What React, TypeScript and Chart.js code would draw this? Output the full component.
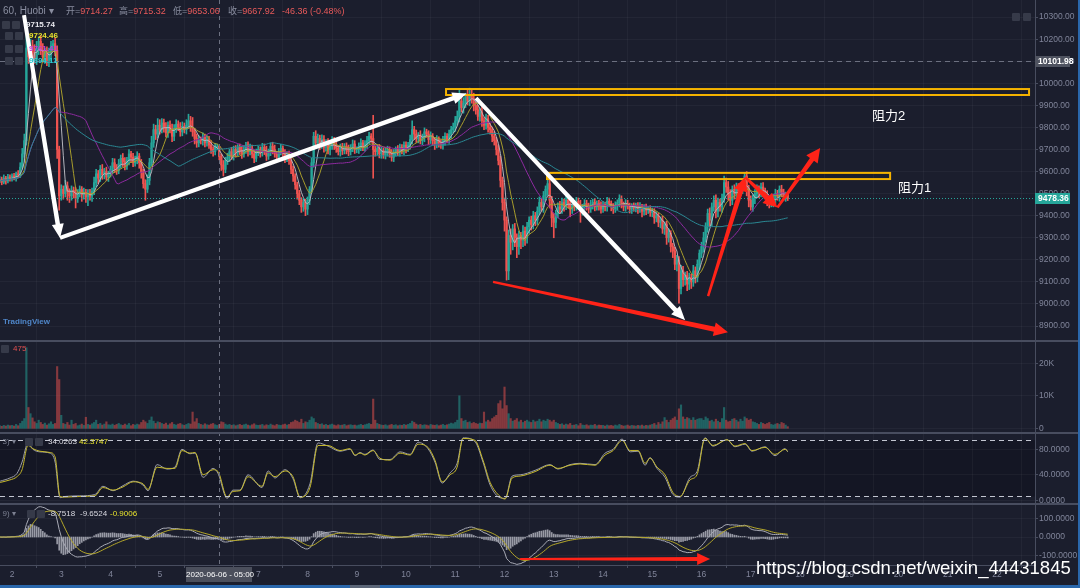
import React, { useEffect, useRef } from 'react';
import { Chart, registerables } from 'chart.js';

Chart.register(...registerables);

const FONT = "'Liberation Sans', Arial, 'Noto Sans CJK SC', sans-serif";

// ---------------- data (hourly candles, hour 0 = 2020-06-02 00:00) ----------------
const START_HOUR = -6;
const FIRST_OPEN = 9560;
const closes = [
  9565, 9552, 9570, 9558, 9575, 9568,
  9580, 9572, 9590, 9585, 9620, 9680, 9740, 10160, 10120, 10170, 10140, 10110, 10160, 10190, 10150, 10120, 10140, 10100, 10130, 10170, 10180, 10150, 9700, 9490,
  9520, 9500, 9535, 9510, 9490, 9515, 9505, 9480, 9500, 9520, 9495, 9505, 9485, 9500, 9490, 9510, 9550, 9590, 9570, 9610, 9585, 9600, 9575, 9590,
  9610, 9640, 9620, 9605, 9635, 9660, 9645, 9625, 9650, 9680, 9665, 9640, 9655, 9670, 9640, 9600, 9545, 9520, 9560, 9640, 9730, 9790, 9770, 9810,
  9790, 9820, 9800, 9775, 9810, 9790, 9760, 9795, 9815, 9800, 9780, 9805, 9790, 9810, 9830, 9800, 9780, 9750, 9730, 9745, 9740, 9755, 9730, 9745,
  9720, 9700, 9690, 9710, 9714.27, 9667.92, 9630, 9610, 9650, 9665, 9690, 9670, 9700, 9685, 9710, 9695, 9680, 9700, 9720, 9690, 9705, 9680, 9660, 9690,
  9700, 9685, 9710, 9695, 9670, 9690, 9715, 9700, 9680, 9665, 9690, 9705, 9680, 9660, 9675, 9650, 9610, 9580, 9540, 9500, 9470, 9440, 9460, 9430,
  9470, 9520, 9640, 9760, 9730, 9750, 9720, 9745, 9710, 9730, 9700, 9715, 9740, 9720, 9705, 9690, 9710, 9695, 9715, 9700, 9690, 9710, 9725, 9700,
  9700, 9715, 9730, 9710, 9725, 9740, 9760, 9750, 9700, 9690, 9705, 9680, 9695, 9675, 9690, 9700, 9680, 9665, 9685, 9700, 9690, 9710, 9695, 9720,
  9705, 9720, 9745, 9790, 9770, 9750, 9765, 9740, 9755, 9780, 9770, 9745, 9760, 9740, 9725, 9745, 9730, 9720, 9740, 9760, 9745, 9770, 9790, 9800,
  9830, 9850, 9920, 9890, 9910, 9940, 9920, 9950, 9930, 9900, 9880, 9850, 9870, 9830, 9810, 9840, 9800, 9790, 9760, 9740, 9700, 9650, 9560, 9460,
  9380, 9150, 9310, 9280, 9340, 9300, 9260, 9310, 9290, 9330, 9300, 9350, 9380, 9360, 9400, 9380, 9420, 9460, 9440, 9490, 9520, 9545, 9470, 9390,
  9370, 9410, 9440, 9430, 9460, 9445, 9470, 9455, 9430, 9450, 9440, 9465, 9450, 9420, 9440, 9455, 9445, 9430, 9450, 9460, 9440, 9455, 9445, 9430,
  9450, 9440, 9465, 9455, 9440, 9430, 9445, 9460, 9475, 9450, 9440, 9455, 9445, 9430, 9440, 9435, 9445, 9430, 9440, 9420, 9435, 9425, 9430, 9415,
  9420, 9390, 9400, 9370, 9380, 9340, 9360, 9300, 9320, 9260, 9240, 9180, 9200, 9070, 9150, 9110, 9130, 9090, 9120, 9100, 9150, 9120, 9180, 9230,
  9260, 9300, 9350, 9410, 9380, 9440, 9470, 9420, 9460, 9440, 9480, 9550, 9530, 9500, 9470, 9520, 9500, 9530, 9510, 9525, 9540, 9580, 9520, 9470,
  9440, 9480, 9500, 9520, 9505, 9530, 9510, 9495, 9470, 9455, 9460, 9480, 9500, 9490, 9520, 9505, 9485, 9495, 9478.36,
];
const wickUp = [
  12, 10, 15, 8, 12, 10,
  10, 12, 8, 15, 20, 25, 30, 115, 40, 30, 25, 35, 30, 20, 25, 30, 20, 25, 30, 20, 15, 25, 20, 15,
  20, 15, 25, 18, 12, 20, 15, 22, 18, 15, 12, 20, 15, 18, 20, 15, 25, 20, 15, 18, 22, 15, 20, 12,
  15, 20, 18, 12, 20, 15, 22, 18, 15, 20, 12, 18, 15, 20, 12, 15, 10, 18, 25, 20, 30, 25, 20, 30,
  25, 20, 18, 22, 15, 20, 25, 18, 20, 15, 22, 20, 15, 25, 30, 20, 45, 15, 20, 18, 12, 20, 15, 18,
  15, 20, 12, 18, 10, 1.05, 12, 20, 15, 18, 12, 20, 15, 18, 12, 15, 20, 18, 12, 15, 20, 15, 18, 12,
  15, 12, 18, 15, 20, 12, 15, 18, 20, 12, 15, 18, 12, 20, 15, 18, 12, 15, 10, 12, 15, 12, 18, 15,
  15, 12, 20, 18, 25, 20, 15, 22, 18, 15, 20, 12, 18, 15, 20, 12, 15, 18, 12, 15, 20, 12, 18, 15,
  12, 15, 18, 12, 15, 20, 18, 12, 105, 15, 12, 18, 15, 12, 18, 15, 12, 20, 15, 12, 18, 15, 12, 15,
  15, 12, 20, 40, 15, 18, 12, 20, 15, 18, 12, 15, 20, 12, 15, 18, 12, 15, 20, 15, 12, 18, 15, 20,
  20, 25, 55, 20, 25, 15, 30, 28, 20, 25, 15, 20, 18, 25, 15, 20, 15, 18, 12, 20, 15, 18, 20, 15,
  20, 15, 25, 30, 20, 25, 18, 20, 15, 25, 18, 20, 15, 18, 20, 15, 20, 25, 18, 20, 15, 25, 20, 18,
  20, 15, 18, 25, 20, 15, 22, 18, 15, 20, 12, 18, 15, 20, 12, 18, 15, 12, 20, 15, 18, 12, 15, 18,
  15, 12, 18, 15, 12, 15, 18, 12, 20, 15, 12, 18, 15, 12, 15, 18, 12, 15, 20, 12, 15, 18, 12, 15,
  15, 12, 18, 12, 15, 18, 12, 15, 20, 12, 15, 18, 20, 15, 25, 20, 15, 18, 20, 15, 25, 18, 20, 15,
  20, 25, 18, 20, 25, 18, 20, 25, 20, 15, 18, 30, 20, 25, 18, 15, 20, 18, 15, 20, 18, 15, 20, 18,
  20, 15, 18, 20, 15, 18, 20, 15, 18, 12, 15, 18, 20, 15, 15, 18, 15, 12, 10,
];
const wickDn = [
  10, 12, 8, 15, 10, 12,
  12, 10, 15, 8, 12, 10, 15, 20, 30, 25, 35, 20, 25, 30, 20, 25, 30, 20, 25, 30, 20, 25, 40, 65,
  20, 25, 15, 40, 30, 20, 25, 45, 20, 15, 30, 20, 25, 40, 20, 25, 15, 20, 25, 15, 20, 18, 15, 20,
  15, 20, 25, 18, 15, 20, 22, 18, 15, 20, 25, 18, 15, 20, 25, 30, 20, 50, 15, 20, 15, 20, 25, 18,
  20, 15, 22, 18, 20, 15, 25, 20, 18, 15, 20, 18, 15, 20, 15, 18, 20, 25, 20, 18, 15, 20, 18, 15,
  15, 18, 20, 15, 12, 14.86, 25, 30, 15, 18, 20, 15, 18, 20, 15, 18, 20, 15, 18, 20, 15, 18, 20, 15,
  18, 20, 15, 18, 20, 15, 18, 20, 15, 18, 20, 15, 18, 20, 15, 18, 20, 25, 20, 25, 20, 25, 20, 30,
  25, 20, 15, 20, 25, 18, 20, 15, 22, 18, 20, 25, 15, 20, 18, 15, 20, 18, 15, 20, 18, 15, 20, 18,
  15, 18, 20, 15, 18, 20, 15, 18, 130, 20, 15, 18, 20, 15, 18, 20, 15, 18, 20, 15, 18, 20, 15, 18,
  20, 15, 18, 20, 25, 18, 20, 15, 18, 20, 15, 22, 18, 20, 25, 18, 20, 15, 18, 20, 15, 18, 20, 15,
  18, 20, 25, 20, 25, 20, 18, 22, 20, 25, 20, 18, 22, 25, 20, 18, 22, 20, 25, 20, 25, 20, 30, 35,
  50, 42, 40, 55, 35, 40, 50, 35, 40, 30, 35, 25, 30, 25, 20, 25, 20, 15, 20, 25, 20, 25, 35, 40,
  70, 25, 20, 18, 20, 25, 18, 20, 35, 20, 18, 15, 20, 50, 18, 15, 20, 18, 15, 20, 18, 15, 20, 18,
  15, 18, 20, 15, 18, 20, 15, 18, 20, 15, 18, 20, 15, 18, 20, 15, 18, 20, 15, 25, 18, 20, 15, 18,
  20, 25, 18, 20, 25, 20, 25, 30, 20, 25, 30, 25, 30, 66, 25, 30, 25, 30, 25, 30, 20, 25, 20, 25,
  20, 25, 20, 25, 30, 25, 20, 30, 25, 20, 25, 20, 25, 30, 25, 20, 25, 20, 25, 20, 25, 20, 30, 30,
  15, 20, 25, 20, 25, 20, 25, 20, 25, 20, 15, 20, 25, 20, 25, 20, 15, 20, 10,
];
const volumeK = [
  0.8, 0.6, 0.9, 0.7, 1.0, 0.8,
  0.9, 0.7, 1.2, 0.8, 1.5, 2.2, 3.0, 24.8, 6.4, 4.5, 3.2, 2.0, 1.5, 2.5, 1.8, 1.2, 1.6, 1.0, 1.4, 2.0, 1.2, 1.5, 19.0, 15.0,
  4.0, 1.5, 1.2, 1.8, 1.0, 2.5, 1.2, 1.5, 0.8, 1.0, 1.3, 0.9, 3.4, 1.2, 1.0, 1.4, 1.8, 2.5, 1.2, 1.5, 1.0, 1.3, 2.0, 1.1,
  1.0, 1.3, 0.9, 1.2, 1.5, 1.1, 0.9, 1.3, 1.0, 1.5, 0.8, 1.2, 1.0, 1.3, 1.1, 1.8, 2.5, 2.0, 1.5, 2.5, 3.5, 2.2, 1.5, 2.0,
  1.8, 1.5, 1.2, 1.6, 1.0, 1.4, 1.8, 1.2, 1.0, 1.3, 1.5, 1.1, 0.9, 1.2, 1.5, 1.3, 5.0, 2.0, 3.0, 1.5, 1.2, 1.0, 1.4, 1.1,
  1.0, 1.3, 1.5, 1.1, 0.9, 1.2, 2.0, 1.8, 1.3, 1.0, 1.2, 0.9, 1.1, 0.8, 1.0, 1.2, 0.9, 1.1, 1.3, 1.0, 0.8, 1.1, 1.4, 1.0,
  0.9, 1.0, 1.2, 0.8, 1.1, 0.9, 1.3, 1.0, 0.8, 1.2, 1.0, 0.9, 1.1, 1.3, 1.0, 1.2, 1.8, 2.0, 2.5, 2.2, 1.8, 2.8, 1.5, 2.0,
  1.8, 2.5, 3.5, 3.0, 1.8, 1.5, 1.2, 1.4, 1.0, 1.2, 0.9, 1.1, 1.3, 1.0, 0.8, 1.1, 0.9, 1.0, 1.2, 0.8, 1.0, 1.1, 0.9, 1.0,
  0.8, 1.0, 1.2, 0.9, 1.1, 1.3, 1.5, 1.2, 9.0, 2.5, 1.5, 1.2, 1.0, 0.9, 1.1, 0.8, 1.0, 1.2, 0.9, 1.1, 0.8, 1.0, 0.9, 1.2,
  1.0, 1.2, 1.5, 2.2, 1.8, 1.3, 1.0, 1.2, 0.9, 1.1, 1.0, 0.8, 1.2, 1.0, 0.9, 1.1, 0.8, 1.0, 1.2, 0.9, 1.1, 1.3, 1.6, 1.4,
  1.8, 2.5, 10.0, 3.0, 2.2, 2.5, 1.8, 2.0, 1.5, 1.8, 1.5, 1.3, 1.6, 1.5, 5.0, 2.0, 2.5, 2.0, 3.0, 3.5, 4.0, 7.6, 8.5, 6.0,
  12.7, 7.0, 4.5, 3.0, 2.2, 2.5, 3.0, 2.0, 2.5, 1.8, 2.2, 2.5, 2.0, 1.8, 2.5, 2.0, 2.2, 2.8, 2.0, 2.5, 2.2, 2.8, 2.5, 2.0,
  2.5, 1.8, 1.5, 1.2, 1.4, 1.0, 1.3, 1.1, 1.5, 0.9, 1.0, 1.2, 0.8, 1.5, 1.0, 0.9, 1.1, 0.8, 1.0, 0.9, 1.2, 0.8, 1.0, 0.9,
  0.9, 0.7, 1.0, 0.8, 0.9, 0.7, 1.0, 0.8, 1.2, 0.9, 0.7, 0.8, 1.0, 0.7, 0.9, 0.8, 0.7, 0.9, 0.8, 1.0, 0.7, 0.9, 0.8, 1.0,
  1.2, 1.5, 1.0, 1.8, 1.3, 2.0, 3.3, 2.5, 1.8, 2.5, 3.0, 3.5, 2.5, 6.0, 7.2, 3.5, 2.8, 3.3, 3.0, 2.5, 3.3, 2.5, 2.8, 3.0,
  3.0, 2.5, 3.5, 3.0, 2.2, 2.5, 2.0, 2.8, 2.2, 1.8, 3.0, 6.4, 2.5, 2.0, 2.2, 2.8, 3.0, 2.5, 2.0, 2.8, 2.2, 3.5, 3.0, 2.5,
  2.8, 2.0, 1.8, 1.5, 1.2, 1.8, 1.5, 1.2, 1.5, 1.8, 1.2, 1.0, 1.3, 1.5, 1.2, 1.8, 1.5, 1.0, 0.5,
];

// Stoch RSI (hour, K grey, D yellow)
const stochHours = [
  -5.8, -1, 2.4, 4.9, 7.8, 10.2, 13.6, 18.5, 21, 23.4, 25.8, 33.1, 40.4, 44.3, 49.2, 54.1, 59, 63.8, 66.3, 70.7,
  75.5, 79.4, 82.8, 86.7, 89.2, 93.1, 98, 100.4, 104.8, 107.7, 111.1, 115, 121.8, 124.8, 128.2, 133, 136.9, 140.4, 145.2, 149.1,
  154, 159.8, 164.7, 167.2, 169.6, 172, 175.9, 179.3, 184.2, 189.1, 194, 197.9, 202.7, 206.1, 209.6, 213.5, 216.9, 219.8, 225.6, 229.5,
  233, 237.8, 240.3, 243.7, 247.6, 254.9, 262.2, 266, 271.9, 276.8, 284.1, 289, 292.9, 297.3, 301.2, 305.1, 308.5, 310.9, 314.3, 318.2,
  322.1, 325.5, 330.4, 333.8, 337.7, 341.6, 348.4, 352.3, 357.2, 360.6, 366.9, 371.8, 376.7, 378,
];
const stochD = [
  28, 32, 37, 48, 86, 81, 77, 75, 68, 6, 5, 6, 7, 20, 16, 21, 29, 26, 17, 52,
  50, 50, 78, 74, 75, 40, 48, 45, 5, 14, 15, 37, 22, 43, 37, 46, 37, 5, 20, 86,
  86, 78, 81, 71, 74, 71, 78, 66, 63, 74, 71, 88, 83, 63, 29, 40, 52, 97, 94, 63,
  28, 6, 2, 35, 38, 45, 55, 50, 55, 57, 55, 71, 78, 94, 78, 78, 58, 66, 52, 40,
  12, 6, 32, 40, 97, 86, 95, 85, 89, 78, 83, 72, 80, 77,
];
const stochK = [
  30, 35, 42, 60, 90, 80, 76, 74, 60, 4, 6, 7, 9, 22, 15, 23, 30, 24, 15, 56,
  49, 52, 80, 73, 74, 36, 50, 42, 3, 16, 16, 40, 20, 46, 35, 48, 34, 4, 26, 90,
  85, 77, 80, 70, 75, 72, 79, 64, 64, 76, 72, 91, 81, 60, 27, 43, 58, 98, 92, 60,
  24, 4, 3, 38, 40, 47, 56, 49, 56, 58, 56, 74, 80, 96, 76, 77, 55, 67, 50, 36,
  9, 5, 36, 45, 98, 85, 95, 84, 88, 77, 84, 70, 81, 76,
];
const stochBands = [94, 6];

const maPeriods = [5, 10, 30, 60];
const macdPeriods = [12, 26, 9];

// axes
const dayLabels = ['2', '3', '4', '5', '6', '7', '8', '9', '10', '11', '12', '13', '14', '15', '16', '17', '18', '19', '20', '21', '22'];
const priceTicks = [8900, 9000, 9100, 9200, 9300, 9400, 9500, 9600, 9700, 9800, 9900, 10000, 10100, 10200, 10300];
const volumeTicks = [0, 10000, 20000];
const stochTicks = [0, 40, 80];
const macdTicks = [-100, 0, 100];

// reference values shown in the picture
const lastPrice = 9478.36;
const markedPrice = 10101.98;
const cursorHour = 101;
const cursorLabel = '2020-06-06 - 05:00';
const ohlcLabels = ['开=', '高=', '低=', '收='];
const ohlcValues = ['9714.27', '9715.32', '9653.06', '9667.92'];
const changeText = '-46.36 (-0.48%)';
const maLegend = ['9715.74', '9724.46', '9761.41', '9694.11'];
const volumeLegend = '475';
const stochLegend = ['34.0263', '42.3747'];
const macdLegend = ['-8.7518', '-9.6524', '-0.9006'];

// annotations (hour, value)
const whiteArrows = [
  [5.85, 10309, 23.4, 9299],
  [23.4, 9299, 221.5, 9954],
  [226.1, 9933, 328, 8926],
];
const redArrows = [
  [234.4, 9100, 348.9, 8872],
  [339.2, 9036, 357.2, 9575],
  [357.2, 9575, 373, 9437],
  [373, 9437, 393.8, 9707],
];
const macdArrow = [247.6, -118, 340.2, -118];
const resistanceBoxes = [
  [211.5, 9974, 495.6, 9947],
  [260.7, 9594, 427.9, 9566],
];

// ---------------- layout (axis ranges so each pane sits in its band) ----------------
const X_RANGE = [-5.85, 498.5];
const PRICE_RANGE = [7817, 10377.5];
const VOLUME_RANGE = [-42063, 131788];
const STOCH_RANGE = [-101.5, 784.8];
const MACD_RANGE = [-150.1, 2879];
const PANE_SEPARATORS = [341, 433, 504];

const BG = '#1b1e2d';
const BAND_BG = '#141624';
const UP = '#26a69a';
const DOWN = '#ef5350';
const AXIS_TEXT = '#80859a';
const LINE_GREY = '#484d5f';
const maColors = ['#b4b4bc', '#a89d2c', '#8e2aa0', '#2a8893'];

function sma(values: number[], n: number) {
  return values.map((_, i) => {
    const s = Math.max(0, i - n + 1);
    let sum = 0;
    for (let k = s; k <= i; k++) sum += values[k];
    return sum / (i - s + 1);
  });
}
function ema(values: number[], n: number) {
  const a = 2 / (n + 1);
  const out: number[] = [];
  values.forEach((v, i) => out.push(i === 0 ? v : out[i - 1] + a * (v - out[i - 1])));
  return out;
}
const toUnified = (v: number, r: number[]) =>
  PRICE_RANGE[0] + ((v - r[0]) / (r[1] - r[0])) * (PRICE_RANGE[1] - PRICE_RANGE[0]);

function drawArrow(ctx: any, x1: number, y1: number, x2: number, y2: number, color: string, w1: number, w2: number, headLen: number, headHalf: number) {
  const dx = x2 - x1, dy = y2 - y1;
  const len = Math.hypot(dx, dy);
  const ux = dx / len, uy = dy / len;
  const nx = -uy, ny = ux;
  const bx = x2 - ux * headLen, by = y2 - uy * headLen;
  ctx.fillStyle = color;
  ctx.beginPath();
  ctx.moveTo(x1 + (nx * w1) / 2, y1 + (ny * w1) / 2);
  ctx.lineTo(bx + (nx * w2) / 2, by + (ny * w2) / 2);
  ctx.lineTo(bx + nx * headHalf, by + ny * headHalf);
  ctx.lineTo(x2, y2);
  ctx.lineTo(bx - nx * headHalf, by - ny * headHalf);
  ctx.lineTo(bx - (nx * w2) / 2, by - (ny * w2) / 2);
  ctx.lineTo(x1 - (nx * w1) / 2, y1 - (ny * w1) / 2);
  ctx.closePath();
  ctx.fill();
}

const decorPlugin = {
  id: 'decor',
  beforeDraw(chart: any) {
    const { ctx, width, height, chartArea: ca, scales } = chart;
    ctx.save();
    ctx.fillStyle = BG;
    ctx.fillRect(0, 0, width, height);
    const t = scales.ys.getPixelForValue(stochBands[0]);
    const b = scales.ys.getPixelForValue(stochBands[1]);
    ctx.fillStyle = BAND_BG;
    ctx.fillRect(ca.left, t, ca.right - ca.left, b - t);
    ctx.restore();
  },
  afterDatasetsDraw(chart: any) {
    const { ctx, chartArea: ca, scales } = chart;
    const { x, y, ys, ym } = scales;
    ctx.save();
    ctx.lineWidth = 1;
    const hline = (py: number) => {
      ctx.beginPath();
      ctx.moveTo(ca.left, py);
      ctx.lineTo(ca.right, py);
      ctx.stroke();
    };
    ctx.strokeStyle = '#c2c5d0';
    ctx.setLineDash([5, 4]);
    stochBands.forEach((v) => hline(Math.round(ys.getPixelForValue(v)) + 0.5));
    ctx.strokeStyle = '#6c7080';
    ctx.setLineDash([5, 4]);
    hline(Math.round(y.getPixelForValue(markedPrice)) + 0.5);
    ctx.strokeStyle = UP;
    ctx.setLineDash([1, 2]);
    hline(Math.round(y.getPixelForValue(lastPrice)) + 0.5);
    ctx.strokeStyle = '#6c7080';
    ctx.setLineDash([4, 4]);
    const cx = Math.round(x.getPixelForValue(cursorHour)) + 0.5;
    ctx.beginPath();
    ctx.moveTo(cx, ca.top);
    ctx.lineTo(cx, ca.bottom);
    ctx.stroke();
    ctx.setLineDash([]);

    ctx.strokeStyle = '#f5b300';
    ctx.lineWidth = 2;
    resistanceBoxes.forEach(([h1, p1, h2, p2]) => {
      const x1 = x.getPixelForValue(h1), x2 = x.getPixelForValue(h2);
      const y1 = y.getPixelForValue(p1), y2 = y.getPixelForValue(p2);
      ctx.strokeRect(x1, y1, x2 - x1, y2 - y1);
    });

    whiteArrows.forEach(([h1, p1, h2, p2]) =>
      drawArrow(ctx, x.getPixelForValue(h1), y.getPixelForValue(p1), x.getPixelForValue(h2), y.getPixelForValue(p2), '#ffffff', 4, 4.5, 14, 6));
    redArrows.forEach(([h1, p1, h2, p2]) =>
      drawArrow(ctx, x.getPixelForValue(h1), y.getPixelForValue(p1), x.getPixelForValue(h2), y.getPixelForValue(p2), '#ff2318', 2.5, 5, 14, 7));
    drawArrow(ctx, x.getPixelForValue(macdArrow[0]), ym.getPixelForValue(macdArrow[1]), x.getPixelForValue(macdArrow[2]), ym.getPixelForValue(macdArrow[3]), '#ff2318', 2, 4, 13, 6);
    ctx.restore();
  },
  afterDraw(chart: any) {
    const { ctx, chartArea: ca, scales, width } = chart;
    const y = scales.y;
    ctx.save();
    ctx.fillStyle = LINE_GREY;
    PANE_SEPARATORS.forEach((py) => ctx.fillRect(0, py - 1, width, 2));
    const boxes = [
      { v: markedPrice, bg: '#4f5360' },
      { v: lastPrice, bg: UP },
    ];
    ctx.font = `bold 8.5px ${FONT}`;
    ctx.textBaseline = 'middle';
    boxes.forEach((b) => {
      const py = y.getPixelForValue(b.v);
      ctx.fillStyle = b.bg;
      ctx.fillRect(ca.right, Math.round(py) - 5, 35, 11);
      ctx.fillStyle = '#ffffff';
      ctx.fillText(b.v.toFixed(2), ca.right + 3, Math.round(py) + 0.5);
    });
    ctx.restore();
  },
};

function buildConfig() {
  const hours = closes.map((_, i) => START_HOUR + i);
  const opens = closes.map((_, i) => (i === 0 ? FIRST_OPEN : closes[i - 1]));
  const highs = closes.map((c, i) => Math.max(c, opens[i]) + wickUp[i]);
  const lows = closes.map((c, i) => Math.min(c, opens[i]) - wickDn[i]);
  const colors = closes.map((c, i) => (c >= opens[i] ? UP : DOWN));
  const volColors = closes.map((c, i) => (c >= opens[i] ? 'rgba(38,166,154,0.5)' : 'rgba(239,83,80,0.5)'));

  const mas = maPeriods.map((n) => sma(closes, n));
  const e1 = ema(closes, macdPeriods[0]);
  const e2 = ema(closes, macdPeriods[1]);
  const macd = e1.map((v, i) => v - e2[i]);
  const signal = ema(macd, macdPeriods[2]);
  const hist = macd.map((v, i) => v - signal[i]);

  const axisTicks = [
    ...priceTicks.map((v) => ({ value: v, label: v.toFixed(2) })),
    ...volumeTicks.map((v) => ({ value: toUnified(v, VOLUME_RANGE), label: v === 0 ? '0' : `${v / 1000}K` })),
    ...stochTicks.map((v) => ({ value: toUnified(v, STOCH_RANGE), label: v.toFixed(4) })),
    ...macdTicks.map((v) => ({ value: toUnified(v, MACD_RANGE), label: v.toFixed(4) })),
  ].sort((a, b) => a.value - b.value);

  const datasets: any[] = [
    {
      type: 'bar', label: 'volume', yAxisID: 'yv', order: 9, grouped: false, barThickness: 1.5,
      data: hours.map((h, i) => ({ x: h, y: volumeK[i] * 1000 })), backgroundColor: volColors, borderWidth: 0,
    },
    {
      type: 'bar', label: 'hist', yAxisID: 'ym', order: 9, grouped: false, barThickness: 1,
      data: hours.map((h, i) => ({ x: h, y: hist[i] })), backgroundColor: 'rgba(205,207,216,0.7)', borderWidth: 0,
    },
    {
      type: 'bar', label: 'wick', yAxisID: 'y', order: 8, grouped: false, barThickness: 1,
      data: hours.map((h, i) => ({ x: h, y: [lows[i], highs[i]] })), backgroundColor: colors, borderWidth: 0,
    },
    {
      type: 'bar', label: 'body', yAxisID: 'y', order: 7, grouped: false, barThickness: 1.6, minBarLength: 1,
      data: hours.map((h, i) => ({ x: h, y: [Math.min(opens[i], closes[i]), Math.max(opens[i], closes[i])] })),
      backgroundColor: colors, borderWidth: 0,
    },
    ...mas.map((m, k) => ({
      type: 'line', label: `MA${maPeriods[k]}`, yAxisID: 'y', order: 6 - k,
      data: hours.map((h, i) => ({ x: h, y: m[i] })), borderColor: maColors[k], borderWidth: 1, pointRadius: 0,
    })),
    {
      type: 'line', label: 'stochK', yAxisID: 'ys', order: 2,
      data: stochHours.map((h, i) => ({ x: h, y: stochK[i] })), borderColor: '#9a9ca8', borderWidth: 1, pointRadius: 0,
      cubicInterpolationMode: 'monotone',
    },
    {
      type: 'line', label: 'stochD', yAxisID: 'ys', order: 1,
      data: stochHours.map((h, i) => ({ x: h, y: stochD[i] })), borderColor: '#c6b92c', borderWidth: 1, pointRadius: 0,
      cubicInterpolationMode: 'monotone',
    },
    {
      type: 'line', label: 'macd', yAxisID: 'ym', order: 2,
      data: hours.map((h, i) => ({ x: h, y: macd[i] })), borderColor: '#a9abb6', borderWidth: 1, pointRadius: 0,
    },
    {
      type: 'line', label: 'signal', yAxisID: 'ym', order: 1,
      data: hours.map((h, i) => ({ x: h, y: signal[i] })), borderColor: '#b3a62a', borderWidth: 1, pointRadius: 0,
    },
  ];

  const hidden = (r: number[]) => ({ type: 'linear', display: false, min: r[0], max: r[1] });

  return {
    type: 'bar',
    data: { datasets },
    options: {
      responsive: false,
      animation: false,
      events: [],
      layout: { padding: 0 },
      plugins: { legend: { display: false }, tooltip: { enabled: false } },
      scales: {
        x: {
          type: 'linear', position: 'bottom', min: X_RANGE[0], max: X_RANGE[1], offset: false,
          afterBuildTicks: (s: any) => { s.ticks = dayLabels.map((_, i) => ({ value: i * 24 })); },
          afterFit: (s: any) => { s.height = 23; s.paddingLeft = 0; s.paddingRight = 0; },
          ticks: {
            autoSkip: false, maxRotation: 0, color: AXIS_TEXT, padding: 2,
            font: { family: FONT, size: 8.5 },
            callback: (_v: any, i: number) => dayLabels[i],
          },
          grid: { color: 'rgba(255,255,255,0.04)', tickLength: 3, tickColor: LINE_GREY },
          border: { color: LINE_GREY, width: 1 },
        },
        y: {
          type: 'linear', position: 'right', min: PRICE_RANGE[0], max: PRICE_RANGE[1],
          afterBuildTicks: (s: any) => { s.ticks = axisTicks.map((t) => ({ value: t.value })); },
          afterFit: (s: any) => { s.width = 45; s.paddingTop = 0; s.paddingBottom = 0; },
          ticks: {
            autoSkip: false, color: AXIS_TEXT, padding: 1,
            font: { family: FONT, size: 8.5 },
            callback: (_v: any, i: number) => axisTicks[i].label,
          },
          grid: { color: 'rgba(255,255,255,0.04)', tickLength: 3, tickColor: LINE_GREY },
          border: { color: LINE_GREY, width: 1 },
        },
        yv: hidden(VOLUME_RANGE),
        ys: hidden(STOCH_RANGE),
        ym: hidden(MACD_RANGE),
      },
    },
    plugins: [decorPlugin],
  };
}

const abs = (style: any) => ({ position: 'absolute', whiteSpace: 'nowrap', ...style });
const Icon = ({ x, y }: { x: number; y: number }) => (
  <div style={abs({ left: x, top: y, width: 8, height: 8, background: '#363a49', borderRadius: 1 })} />
);

export default function App() {
  const ref = useRef<HTMLCanvasElement | null>(null);
  useEffect(() => {
    document.body.style.margin = '0';
    const chart = new Chart(ref.current as any, buildConfig() as any);
    return () => chart.destroy();
  }, []);

  const ohlcX = [66, 119, 173, 228];
  const maRows = [
    { y: 20, iconX: 2, textX: 26, color: '#e8e8ee' },
    { y: 31, iconX: 5, textX: 29, color: '#e6e12c' },
    { y: 44, iconX: 5, textX: 29, color: '#c43fd6' },
    { y: 56, iconX: 5, textX: 29, color: '#2ccad2' },
  ];
  const small = { fontSize: 8, lineHeight: '10px' };

  return (
    <div style={abs({ left: 0, top: 0, width: 1080, height: 588, background: BG, overflow: 'hidden', fontFamily: FONT })}>
      <canvas ref={ref} width={1080} height={588} style={{ position: 'absolute', left: 0, top: 0, width: 1080, height: 588 }} />

      <div style={abs({ left: 3, top: 5, fontSize: 10, lineHeight: '12px', color: '#8a8ea0' })}>60, Huobi ▾</div>
      {ohlcLabels.map((l, i) => (
        <div key={l} style={abs({ left: ohlcX[i], top: 5, fontSize: 9, lineHeight: '12px' })}>
          <span style={{ color: '#8a8ea0' }}>{l}</span>
          <span style={{ color: '#e85a5a' }}>{ohlcValues[i]}</span>
        </div>
      ))}
      <div style={abs({ left: 282, top: 5, fontSize: 9, lineHeight: '12px', color: '#e85a5a' })}>{changeText}</div>

      {maRows.map((r, i) => (
        <React.Fragment key={i}>
          <Icon x={r.iconX} y={r.y + 1} />
          <Icon x={r.iconX + 10} y={r.y + 1} />
          <div style={abs({ left: r.textX, top: r.y, fontSize: 8, lineHeight: '10px', fontWeight: 'bold', color: r.color })}>{maLegend[i]}</div>
        </React.Fragment>
      ))}

      <div style={abs({ left: 3, top: 317, fontSize: 8, lineHeight: '10px', fontWeight: 'bold', color: '#4f86c8' })}>TradingView</div>

      <Icon x={1} y={345} />
      <div style={abs({ left: 13, top: 344, ...small, color: '#e05050' })}>{volumeLegend}</div>

      <div style={abs({ left: -2, top: 437, ...small, color: '#7d8192' })}>, 3) ▾</div>
      <Icon x={25} y={438} />
      <Icon x={35} y={438} />
      <div style={abs({ left: 48, top: 437, ...small, color: '#d8d8e0' })}>{stochLegend[0]}</div>
      <div style={abs({ left: 79, top: 437, ...small, color: '#e6e12c' })}>{stochLegend[1]}</div>

      <div style={abs({ left: -2, top: 509, ...small, color: '#7d8192' })}>, 9) ▾</div>
      <Icon x={27} y={510} />
      <Icon x={37} y={510} />
      <div style={abs({ left: 48, top: 509, ...small, color: '#d8d8e0' })}>{macdLegend[0]}</div>
      <div style={abs({ left: 80, top: 509, ...small, color: '#d8d8e0' })}>{macdLegend[1]}</div>
      <div style={abs({ left: 110, top: 509, ...small, color: '#e6e12c' })}>{macdLegend[2]}</div>

      <div style={abs({ left: 872, top: 108, fontSize: 13, lineHeight: '15px', color: '#ffffff' })}>阻力2</div>
      <div style={abs({ left: 898, top: 180, fontSize: 13, lineHeight: '15px', color: '#ffffff' })}>阻力1</div>

      <Icon x={1012} y={13} />
      <Icon x={1023} y={13} />

      <div style={abs({ left: 186, top: 567, width: 66, height: 15, background: '#4b4f5c', color: '#ffffff', fontSize: 8, lineHeight: '15px', textAlign: 'center' })}>{cursorLabel}</div>

      <div style={abs({ left: 0, top: 585, width: 1080, height: 3, background: '#2a67ab' })} />
      <div style={abs({ left: 350, top: 585, width: 30, height: 3, background: '#5c6678' })} />
      <div style={abs({ left: 1078, top: 0, width: 2, height: 588, background: '#2a67ab' })} />

      <div style={abs({ left: 756, top: 559, fontSize: 18.5, lineHeight: '18.5px', color: '#ffffff' })}>https://blog.csdn.net/weixin_44431845</div>
    </div>
  );
}
